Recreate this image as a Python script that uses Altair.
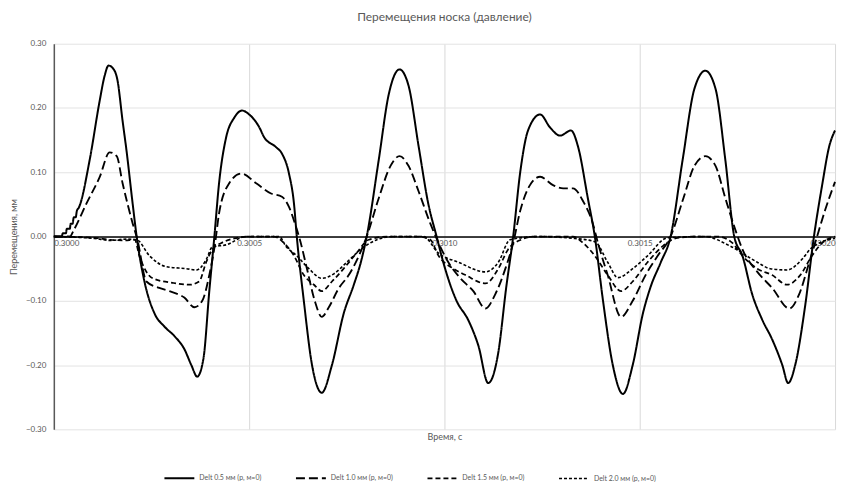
import altair as alt
import pandas as pd

# time in microseconds after 0.3 s, displacement in mm
t_05 = [0, 20, 23, 31, 33, 41, 43, 48, 51, 56, 59, 64, 92, 117, 130, 140, 151, 163, 176, 186, 202, 212,
        232, 258, 283, 309, 334, 352, 367, 383, 398, 411, 423, 441, 462, 482, 500, 526, 538, 569, 584, 602,
        615, 622, 640, 661, 686, 712, 742, 768, 786, 801, 832, 857, 885, 908, 934, 959, 980, 997, 1031,
        1061, 1087, 1112, 1138, 1158, 1176, 1194, 1214, 1245, 1270, 1296, 1324, 1342, 1367, 1385, 1406,
        1431, 1457, 1482, 1508, 1528, 1554, 1579, 1610, 1640, 1668, 1694, 1719, 1742, 1763, 1788, 1814,
        1839, 1865, 1880, 1898, 1923, 1946, 1967, 1985, 2000]
v_05 = [0, 0, 0.005, 0.005, 0.012, 0.012, 0.02, 0.02, 0.03, 0.03, 0.04, 0.045, 0.12, 0.21, 0.25, 0.266,
        0.262, 0.243, 0.18, 0.134, 0.05, 0.0, -0.07, -0.12, -0.14, -0.155, -0.175, -0.2, -0.218, -0.19,
        -0.085, 0.0, 0.083, 0.154, 0.185, 0.196, 0.19, 0.17, 0.155, 0.139, 0.129, 0.098, 0.05, 0.0, -0.10,
        -0.20, -0.243, -0.20, -0.12, -0.075, -0.04, 0.0, 0.12, 0.22, 0.26, 0.235, 0.14, 0.05, 0.0, -0.04,
        -0.10, -0.13, -0.17, -0.228, -0.18, -0.08, 0.0, 0.10, 0.165, 0.19, 0.17, 0.157, 0.165, 0.14, 0.06,
        0.0, -0.10, -0.20, -0.245, -0.20, -0.12, -0.078, -0.04, 0.0, 0.12, 0.23, 0.258, 0.23, 0.12, 0.0,
        -0.03, -0.09, -0.13, -0.16, -0.2, -0.228, -0.2, -0.11, 0.0, 0.08, 0.14, 0.165]

t_10 = [0, 41, 51, 84, 117, 143, 161, 176, 202, 214, 237, 270, 296, 334, 360, 380, 398, 413, 423, 449,
        480, 518, 556, 584, 602, 620, 630, 648, 668, 686, 704, 730, 755, 781, 801, 832, 862, 885, 908, 934,
        964, 985, 1010, 1041, 1074, 1105, 1130, 1156, 1176, 1194, 1219, 1245, 1278, 1304, 1329, 1355,
        1380, 1393, 1418, 1452, 1482, 1515, 1546, 1579, 1612, 1640, 1668, 1694, 1719, 1745, 1763, 1801,
        1839, 1883, 1908, 1934, 1954, 1974, 2000]
v_10 = [0, 0.0, 0.01, 0.052, 0.092, 0.131, 0.125, 0.083, 0.02, -0.005, -0.07, -0.08, -0.085, -0.095,
        -0.11, -0.10, -0.06, -0.01, 0.036, 0.083, 0.098, 0.083, 0.067, 0.062, 0.046, 0.015, -0.005, -0.05,
        -0.10, -0.125, -0.11, -0.08, -0.06, -0.03, 0.0, 0.06, 0.11, 0.125, 0.11, 0.07, 0.02, -0.01, -0.04,
        -0.065, -0.085, -0.112, -0.09, -0.05, -0.01, 0.04, 0.08, 0.093, 0.08, 0.075, 0.075, 0.055, 0.02,
        -0.01, -0.06, -0.125, -0.10, -0.06, -0.03, 0.0, 0.06, 0.11, 0.125, 0.11, 0.06, 0.01, -0.02, -0.055,
        -0.08, -0.112, -0.09, -0.04, 0.0, 0.04, 0.085]

t_15 = [0, 105, 143, 181, 207, 219, 253, 304, 347, 372, 390, 406, 429, 462, 500, 564, 589, 615, 640,
        666, 686, 712, 742, 776, 806, 857, 934, 964, 985, 1023, 1054, 1105, 1138, 1163, 1196, 1232, 1329,
        1355, 1385, 1418, 1452, 1482, 1520, 1559, 1597, 1648, 1699, 1737, 1763, 1801, 1839, 1877, 1911,
        1941, 1967, 2000]
v_15 = [0, -0.002, -0.005, -0.006, -0.005, -0.03, -0.065, -0.072, -0.075, -0.07, -0.04, -0.02, -0.01,
        -0.003, 0.0, 0.0, -0.01, -0.03, -0.06, -0.075, -0.085, -0.07, -0.05, -0.025, -0.005, 0.0, 0.0,
        -0.005, -0.03, -0.05, -0.06, -0.073, -0.05, -0.02, -0.005, 0.0, 0.0, -0.01, -0.03, -0.06, -0.085,
        -0.07, -0.04, -0.015, -0.002, 0.0, 0.0, -0.01, -0.03, -0.05, -0.06, -0.075, -0.06, -0.03, -0.01,
        0.0]

t_20 = [0, 105, 143, 186, 212, 245, 288, 339, 365, 390, 406, 441, 492, 577, 594, 622, 653, 686, 717,
        750, 786, 827, 870, 946, 985, 1036, 1105, 1138, 1168, 1240, 1334, 1385, 1418, 1444, 1482, 1520,
        1571, 1666, 1732, 1801, 1834, 1877, 1916, 1936, 1967, 2000]
v_20 = [0, -0.003, -0.006, -0.004, -0.005, -0.03, -0.047, -0.05, -0.052, -0.036, -0.016, -0.013, 0.0,
        0.0, -0.015, -0.03, -0.05, -0.065, -0.058, -0.04, -0.02, -0.005, 0.0, 0.0, -0.026, -0.04, -0.055,
        -0.04, -0.005, 0.0, -0.003, -0.008, -0.04, -0.064, -0.05, -0.03, -0.002, 0.0, -0.015, -0.04,
        -0.05, -0.052, -0.035, -0.02, -0.008, -0.003]

names = ["Delt 0.5 мм (p, м=0)", "Delt 1.0 мм (p, м=0)", "Delt 1.5 мм (p, м=0)", "Delt 2.0 мм (p, м=0)"]
series = [(t_05, v_05), (t_10, v_10), (t_15, v_15), (t_20, v_20)]
x_ticks = [0.3, 0.3005, 0.301, 0.3015, 0.302]
y_ticks = [-0.3, -0.2, -0.1, 0.0, 0.1, 0.2, 0.3]

rows = []
for name, (ts, vs) in zip(names, series):
    for i, (t, v) in enumerate(zip(ts, vs)):
        rows.append({"t": 0.3 + t * 1e-6, "v": v, "s": name, "i": i})
df = pd.DataFrame(rows)

W, H = 784, 387
font = "Lato"
gray = "#595959"

lines = alt.Chart(df).mark_line(interpolate="monotone", color="black").encode(
    x=alt.X("t:Q", scale=alt.Scale(domain=[0.3, 0.302], nice=False, zero=False),
            axis=alt.Axis(values=x_ticks, format=".4f", title="Время, с", offset=-H / 2,
                          ticks=False, domainColor="black", domainWidth=1.5, grid=True,
                          gridColor="#d9d9d9", labelPadding=3, labelFontSize=8, labelColor=gray,
                          titleY=H / 2 + 7, titleBaseline="middle", titleFontSize=9,
                          titleFontWeight="normal", titleColor=gray, labelFont=font, titleFont=font)),
    y=alt.Y("v:Q", scale=alt.Scale(domain=[-0.3, 0.3], nice=False),
            axis=alt.Axis(values=y_ticks, format=".2f", title="Перемещения, мм", ticks=False,
                          domainColor="#595959", domainWidth=1.5, gridColor="#e3e3e3",
                          labelPadding=8, labelFontSize=8, labelColor=gray, titleX=-40,
                          titleBaseline="middle", titleAngle=270,
                          titleFontSize=9, titleFontWeight="normal", titleColor=gray,
                          labelFont=font, titleFont=font)),
    detail="s:N",
    order="i:Q",
    strokeDash=alt.StrokeDash("s:N", scale=alt.Scale(domain=names,
                              range=[[1, 0], [9, 4], [5, 3], [3, 2]]),
                              legend=alt.Legend(title=None, orient="none", direction="horizontal",
                                                legendX=110, legendY=420, symbolType="stroke",
                                                symbolSize=900, symbolStrokeWidth=1.6,
                                                symbolStrokeColor="black", labelFontSize=7,
                                                labelColor=gray, labelFont=font, columnPadding=30)),
    strokeWidth=alt.StrokeWidth("s:N", scale=alt.Scale(domain=names, range=[2.0, 1.6, 1.6, 1.6]),
                                legend=None),
)

chart = lines.properties(
    width=W, height=H,
    padding={"left": 46, "top": 35, "right": 10, "bottom": 52},
    autosize=alt.AutoSizeParams(type="none"),
    title=alt.Title("Перемещения носка (давление)", fontSize=12, font=font, color=gray,
                    fontWeight="normal", anchor="middle", offset=16),
).configure_view(stroke=None)

chart.save("out.html", embed_options={"renderer": "svg", "actions": False})
